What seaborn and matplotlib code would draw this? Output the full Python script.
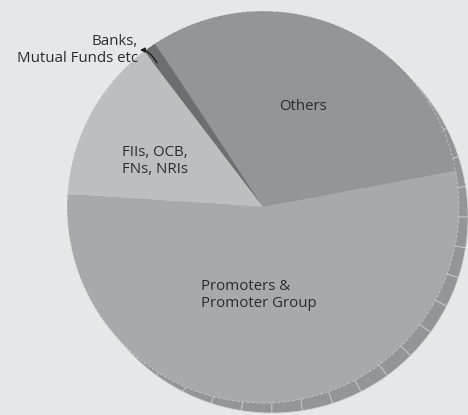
import numpy as np
import matplotlib.pyplot as plt
import seaborn as sns

# shareholding split, counter-clockwise from the Others/Promoters edge
labels = ["Others", "Banks, Mutual Funds etc", "FIIs, OCB, FNs, NRIs", "Promoters & Promoter Group"]
shares = [31.3, 1.1, 13.6, 54.0]
colors = ["#939598", "#6d6e71", "#bcbec0", "#a7a9ac"]
side_segments = [1] * 40

sns.set_style("white")
plt.rcParams['font.family'] = ['Open Sans', 'DejaVu Sans']

fig = plt.figure(figsize=(4.68, 4.15), dpi=100)
fig.patch.set_facecolor("#e6e7e9")
ax = fig.add_axes([0, 0, 1, 1])
ax.set_facecolor("#e6e7e9")

cx, cy, r = 263, 208, 196

# extruded side of the pie
ax.pie(side_segments, center=(cx + 9, cy - 10), radius=r, colors=["#939598"],
       wedgeprops=dict(edgecolor="#d0d1d3", linewidth=0.5), frame=True)

# top face
wedges, _ = ax.pie(shares, center=(cx, cy), radius=r, colors=colors, startangle=10.7,
                   counterclock=True, wedgeprops=dict(edgecolor="none", linewidth=0), frame=True)
rim = plt.Circle((cx, cy), r, fill=False, edgecolor="white", linewidth=0.5,
                 linestyle=(0, (4, 3)), alpha=0.5)
ax.add_patch(rim)

ax.set_xlim(0, 468)
ax.set_ylim(0, 415)
ax.set_aspect("equal")
ax.axis("off")

txt = dict(fontsize=10.8, color="#2b2b2b", linespacing=1.22)
ax.text(303, 415 - 107, "Others", ha="center", va="center", **txt)
ax.text(122, 415 - 161, "FIIs, OCB,\nFNs, NRIs", ha="left", va="center", **txt)
ax.text(201, 415 - 295, "Promoters &\nPromoter Group", ha="left", va="center", **txt)
ax.text(138, 415 - 50, "Banks,\nMutual Funds etc", ha="right", va="center", multialignment="right", **txt)
ax.annotate("", xy=(140, 415 - 50), xytext=(157, 415 - 63),
            arrowprops=dict(arrowstyle="-|>", color="#1a1a1a", lw=0.9, shrinkA=0, shrinkB=0,
                            connectionstyle="angle3,angleA=120,angleB=0", mutation_scale=7))

fig.savefig("out.png", dpi=100, facecolor=fig.get_facecolor())
